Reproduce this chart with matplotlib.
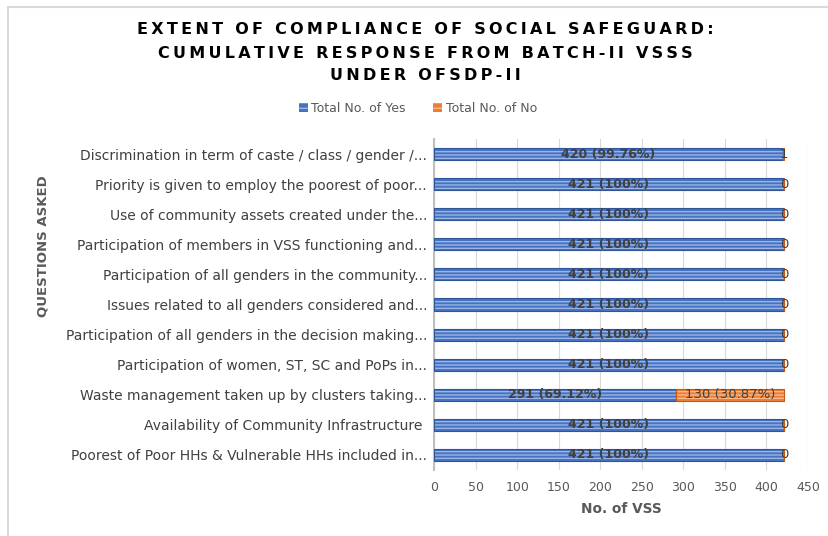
import matplotlib
matplotlib.use("Agg")
import matplotlib.pyplot as plt
from matplotlib import font_manager
from matplotlib.patches import Rectangle, Patch

categories = [
    "Poorest of Poor HHs & Vulnerable HHs included in...",
    "Availability of Community Infrastructure ",
    "Waste management taken up by clusters taking...",
    "Participation of women, ST, SC and PoPs in...",
    "Participation of all genders in the decision making...",
    "Issues related to all genders considered and...",
    "Participation of all genders in the community...",
    "Participation of members in VSS functioning and...",
    "Use of community assets created under the...",
    "Priority is given to employ the poorest of poor...",
    "Discrimination in term of caste / class / gender /...",
]
yes_values = [421, 421, 291, 421, 421, 421, 421, 421, 421, 421, 420]
no_values = [0, 0, 130, 0, 0, 0, 0, 0, 0, 0, 1]
yes_labels = ["421 (100%)", "421 (100%)", "291 (69.12%)", "421 (100%)", "421 (100%)",
              "421 (100%)", "421 (100%)", "421 (100%)", "421 (100%)", "421 (100%)",
              "420 (99.76%)"]
no_labels = ["0", "0", "130 (30.87%)", "0", "0", "0", "0", "0", "0", "0", "1"]
x_ticks = [0, 50, 100, 150, 200, 250, 300, 350, 400, 450]

title_lines = ["EXTENT OF COMPLIANCE OF SOCIAL SAFEGUARD:",
               "CUMULATIVE RESPONSE FROM BATCH-II VSSS",
               "UNDER OFSDP-II"]

installed = {f.name for f in font_manager.fontManager.ttflist}
narrow = "Liberation Sans Narrow" if "Liberation Sans Narrow" in installed else "DejaVu Sans"
narrow_size = 11.5 if narrow != "DejaVu Sans" else 9.5

W, H = 829, 536
fig = plt.figure(figsize=(W / 100, H / 100), dpi=100)
plt.rcParams['hatch.linewidth'] = 1.0

# chart-area border
fig.patches.append(Rectangle((8 / W, -0.05), 1.1, (H - 7) / H + 0.05, transform=fig.transFigure,
                             fill=False, edgecolor="#D9D9D9", linewidth=1.5, zorder=0))

left, right = 434 / W, 808 / W
top, bottom = 139 / H, 470 / H
ax = fig.add_axes([left, 1 - bottom, right - left, bottom - top])

y = list(range(len(categories)))
blue, blue_l, blue_d = "#4472C4", "#9DB5E0", "#2F5597"
orange, orange_l, orange_d = "#ED7D31", "#F6B98E", "#C55A11"

ax.barh(y, yes_values, height=0.4, color=blue, edgecolor=blue_l, hatch="-----", linewidth=0, zorder=2)
ax.barh(y, yes_values, height=0.4, facecolor="none", edgecolor=blue_d, linewidth=0.8, zorder=3)
ax.barh(y, no_values, left=yes_values, height=0.4, color=orange, edgecolor=orange_l, hatch="-----",
        linewidth=0, zorder=2)
ax.barh(y, no_values, left=yes_values, height=0.4, facecolor="none", edgecolor=orange_d,
        linewidth=0.8, zorder=3)

for i in y:
    ax.text(yes_values[i] / 2, i, yes_labels[i], ha="center", va="center", fontsize=9,
            fontweight="bold", color="#404040", zorder=4)
    ax.text(yes_values[i] + no_values[i] / 2, i, no_labels[i], ha="center", va="center",
            fontsize=9.5, color="#404040", zorder=4)

ax.set_xlim(0, 450)
ax.set_ylim(-0.5, len(categories) - 0.5)
ax.set_xticks(x_ticks)
ax.set_yticks(y)
ax.set_yticklabels(categories, fontsize=10, color="#404040")
ax.tick_params(axis="x", labelsize=9, colors="#595959", length=0, pad=8)
ax.tick_params(axis="y", length=0, pad=5)
ax.grid(axis="x", color="#D9D9D9", linewidth=0.8, zorder=0)
ax.set_axisbelow(True)
for s in ["top", "right", "bottom"]:
    ax.spines[s].set_visible(False)
ax.spines["left"].set_color("#BFBFBF")
ax.spines["left"].set_linewidth(1.5)

fig.text(621 / W, 1 - 509 / H, "No. of VSS", ha="center", va="center", fontsize=9.8,
         fontweight="bold", color="#595959")
fig.text(43 / W, 1 - 246 / H, "QUESTIONS ASKED", ha="center", va="center", rotation=90,
         fontsize=narrow_size, fontweight="bold", color="#595959", family=narrow)

sp = "\u2009"
for k, (line, yy) in enumerate(zip(title_lines, [29, 53, 76])):
    fig.text(425 / W, 1 - yy / H, sp.join(line), ha="center", va="center", fontsize=11.5,
             fontweight="bold", color="#000000")

handles = [Patch(facecolor=blue, edgecolor=blue_l, hatch="---", linewidth=0),
           Patch(facecolor=orange, edgecolor=orange_l, hatch="---", linewidth=0)]
fig.legend(handles, ["Total No. of Yes", "Total No. of No"], loc="center",
           bbox_to_anchor=(418 / W, 1 - 108 / H), ncol=2, frameon=False, fontsize=9,
           labelcolor="#595959", handlelength=0.7, handleheight=0.7, columnspacing=2.2,
           handletextpad=0.3)

fig.savefig("out.png", dpi=100)
